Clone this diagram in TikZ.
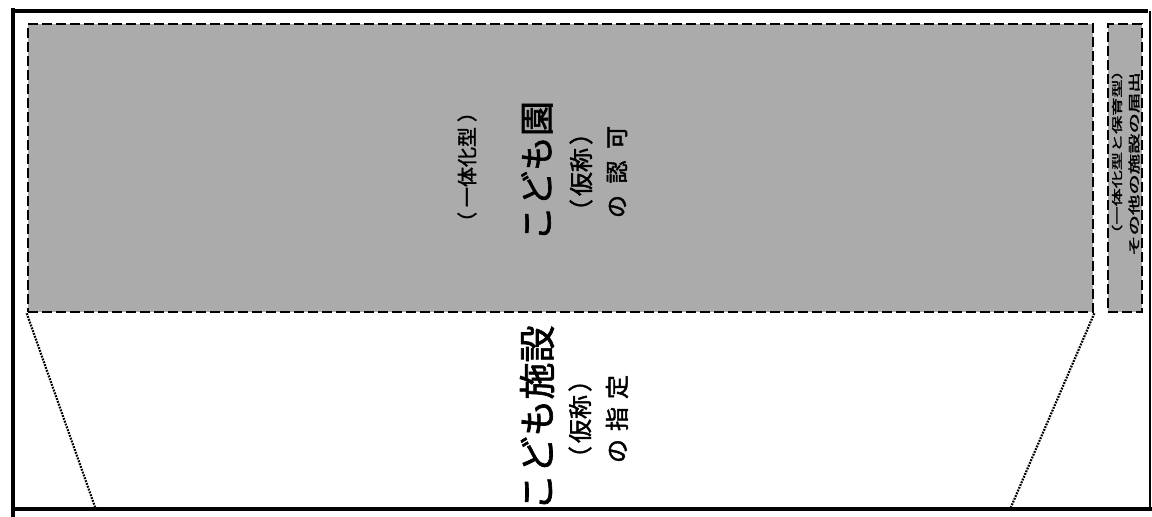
\documentclass[tikz,border=0pt]{standalone}
\usepackage{fontspec}
\newfontfamily\jp{Noto Sans CJK JP}[FakeBold=1.8]
\usepackage{graphicx}
\tikzset{
  frameline/.style={line width=4.5pt, black},
  zonebox/.style={draw=black, fill=black!33, line width=2.6pt, dash pattern=on 10pt off 4pt},
  guide/.style={line width=2.2pt, dash pattern=on 1.8pt off 1.2pt, black},
  vtext/.style={rotate=90, inner sep=0pt, font=\jp, text=black},
}
\newcommand{\fsz}[1]{\fontsize{#1}{#1}\selectfont}
\begin{document}
\begin{tikzpicture}[x=1pt,y=-1pt]
\useasboundingbox (0,0) rectangle (1152,517);
\fill[white] (0,0) rectangle (1152,517);
% outer frame
\draw[frameline] (13,8) -- (13,517);
\draw[frameline] (11,11) -- (1148,11);
\draw[frameline] (11,509) -- (1152,509);
\draw[line width=1.6pt] (1150,11) -- (1150,509);
% shaded boxes
\node[zonebox, minimum width=1065pt, minimum height=288pt, inner sep=0pt] (main) at (560.5,168) {};
\node[zonebox, minimum width=34pt, minimum height=288pt, inner sep=0pt] (side) at (1125,168) {};
% guide lines
\coordinate (bl) at (95,507);
\coordinate (br) at (1011,507);
\draw[guide] (main.south west) -- (bl);
\draw[guide] (main.south east) -- (br);
% texts upper
\node[vtext] (t1) at (467,167) {\fsz{20}（\hspace{5pt}一体化型\hspace{5pt}）};
\node[vtext] (t2) at (537,171) {\fsz{35}こども園};
\node[vtext] (t3) at (581,172) {\fsz{24}（\hspace{3pt}仮称\hspace{3pt}）};
\node[vtext] (t4) at (617,172) {\fsz{23}の\hspace{11.5pt}認\hspace{11.5pt}可};
% texts lower
\node[vtext] (b1) at (537,418) {\fsz{37}こども施設};
\node[vtext] (b2) at (580,419) {\fsz{24}（\hspace{3pt}仮称\hspace{3pt}）};
\node[vtext] (b3) at (617,419) {\fsz{24}の\hspace{8pt}指\hspace{8pt}定};
% side texts
\node[vtext] (s1) at (1117,152) {\scalebox{1.65}[1]{\fsz{11}（一体化型と保育型）}};
\node[vtext] (s2) at (1134,164) {\scalebox{1.7}[1]{\fsz{12}その他の施設の届出}};
\end{tikzpicture}
\end{document}
